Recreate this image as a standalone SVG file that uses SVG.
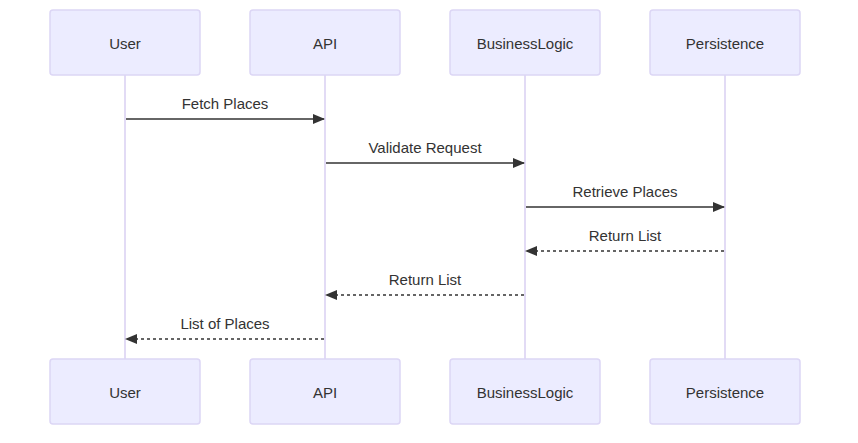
<svg xmlns="http://www.w3.org/2000/svg" width="858" height="443" viewBox="0 0 858 443">
<style>
.box{fill:#ECECFF;stroke:#DCD6F5;stroke-width:1.5}
.lbl{font-family:"Liberation Sans",Arial,sans-serif;font-size:15px;fill:#333;text-anchor:middle;dominant-baseline:central}
.life{stroke:#D8CFF2;stroke-width:1.5;fill:none}
.msg{stroke:#333;stroke-width:1.5;fill:none}
.dash{stroke-dasharray:3,3}
.mt{font-family:"Liberation Sans",Arial,sans-serif;font-size:15px;fill:#333;text-anchor:middle}
</style>
<defs>
<marker id="ah" viewBox="0 0 12 10" refX="11" refY="5" markerWidth="12" markerHeight="10" markerUnits="userSpaceOnUse" orient="auto">
<path d="M0,0 L12,5 L0,10 z" fill="#333"/>
</marker>
</defs>
<rect width="858" height="443" fill="#fff"/>
<g id="lifelines">
<line class="life" x1="125" y1="75" x2="125" y2="359"/>
<line class="life" x1="325" y1="75" x2="325" y2="359"/>
<line class="life" x1="525" y1="75" x2="525" y2="359"/>
<line class="life" x1="725" y1="75" x2="725" y2="359"/>
</g>
<g id="User"><rect class="box" x="50" y="10" width="150" height="65" rx="3"/><text class="lbl" x="125" y="43">User</text></g>
<g id="API"><rect class="box" x="250" y="10" width="150" height="65" rx="3"/><text class="lbl" x="325" y="43">API</text></g>
<g id="BusinessLogic"><rect class="box" x="450" y="10" width="150" height="65" rx="3"/><text class="lbl" x="525" y="43">BusinessLogic</text></g>
<g id="Persistence"><rect class="box" x="650" y="10" width="150" height="65" rx="3"/><text class="lbl" x="725" y="43">Persistence</text></g>
<g id="User_bottom"><rect class="box" x="50" y="359" width="150" height="65" rx="3"/><text class="lbl" x="125" y="392">User</text></g>
<g id="API_bottom"><rect class="box" x="250" y="359" width="150" height="65" rx="3"/><text class="lbl" x="325" y="392">API</text></g>
<g id="BusinessLogic_bottom"><rect class="box" x="450" y="359" width="150" height="65" rx="3"/><text class="lbl" x="525" y="392">BusinessLogic</text></g>
<g id="Persistence_bottom"><rect class="box" x="650" y="359" width="150" height="65" rx="3"/><text class="lbl" x="725" y="392">Persistence</text></g>
<g id="connectors">
<line class="msg" x1="126" y1="119" x2="324" y2="119" marker-end="url(#ah)"/>
<text class="mt" x="225" y="109">Fetch Places</text>
<line class="msg" x1="326" y1="163" x2="524" y2="163" marker-end="url(#ah)"/>
<text class="mt" x="425" y="153">Validate Request</text>
<line class="msg" x1="526" y1="207" x2="724" y2="207" marker-end="url(#ah)"/>
<text class="mt" x="625" y="197">Retrieve Places</text>
<line class="msg dash" x1="724" y1="251" x2="526" y2="251" marker-end="url(#ah)"/>
<text class="mt" x="625" y="241">Return List</text>
<line class="msg dash" x1="524" y1="295" x2="326" y2="295" marker-end="url(#ah)"/>
<text class="mt" x="425" y="285">Return List</text>
<line class="msg dash" x1="324" y1="339" x2="126" y2="339" marker-end="url(#ah)"/>
<text class="mt" x="225" y="329">List of Places</text>
</g>
</svg>
